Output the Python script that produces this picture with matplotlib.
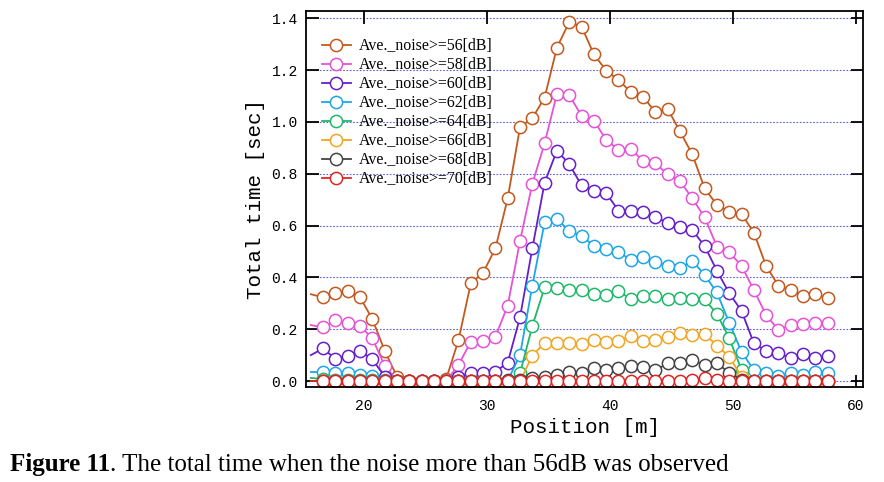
import matplotlib
matplotlib.use("Agg")
import matplotlib.pyplot as plt

# position [m] (first point sits just inside the left edge, its marker is not drawn)
position = [15.7] + [16.7 + i for i in range(42)]

noise_labels = ["Ave._noise>=56[dB]", "Ave._noise>=58[dB]", "Ave._noise>=60[dB]",
                "Ave._noise>=62[dB]", "Ave._noise>=64[dB]", "Ave._noise>=66[dB]",
                "Ave._noise>=68[dB]", "Ave._noise>=70[dB]"]

t56 = [0.335, 0.323, 0.341, 0.347, 0.323, 0.239, 0.117, 0.017, 0.0, 0.0, 0.0, 0.008,
       0.158, 0.377, 0.418, 0.512, 0.705, 0.980, 1.014, 1.094, 1.287, 1.385, 1.368,
       1.261, 1.198, 1.162, 1.115, 1.098, 1.037, 1.050, 0.963, 0.875, 0.744, 0.680,
       0.654, 0.645, 0.573, 0.444, 0.368, 0.351, 0.329, 0.335, 0.319]
t58 = [0.216, 0.207, 0.236, 0.223, 0.212, 0.165, 0.059, 0.002, 0.0, 0.0, 0.0, 0.0,
       0.062, 0.152, 0.156, 0.171, 0.291, 0.541, 0.761, 0.918, 1.108, 1.104, 1.023,
       1.005, 0.931, 0.892, 0.896, 0.849, 0.840, 0.798, 0.772, 0.705, 0.632, 0.519,
       0.497, 0.445, 0.351, 0.255, 0.197, 0.216, 0.220, 0.223, 0.223]
t60 = [0.100, 0.126, 0.085, 0.098, 0.116, 0.084, 0.017, 0.0, 0.0, 0.0, 0.0, 0.0,
       0.017, 0.032, 0.030, 0.036, 0.071, 0.246, 0.512, 0.766, 0.889, 0.837, 0.755,
       0.733, 0.725, 0.658, 0.658, 0.654, 0.632, 0.611, 0.596, 0.583, 0.521, 0.426,
       0.339, 0.271, 0.146, 0.116, 0.107, 0.088, 0.104, 0.088, 0.097]
t62 = [0.035, 0.034, 0.030, 0.030, 0.023, 0.019, 0.004, 0.0, 0.0, 0.0, 0.0, 0.0,
       0.0, 0.0, 0.0, 0.0, 0.002, 0.100, 0.368, 0.613, 0.624, 0.580, 0.560,
       0.522, 0.508, 0.499, 0.467, 0.478, 0.461, 0.444, 0.435, 0.465, 0.409, 0.342,
       0.225, 0.113, 0.042, 0.030, 0.019, 0.032, 0.023, 0.036, 0.030]
t64 = [0.012, 0.008, 0.005, 0.005, 0.004, 0.003, 0.0, 0.0, 0.0, 0.0, 0.0, 0.0,
       0.0, 0.0, 0.0, 0.0, 0.0, 0.030, 0.212, 0.362, 0.360, 0.351, 0.351,
       0.335, 0.332, 0.349, 0.315, 0.328, 0.328, 0.315, 0.319, 0.315, 0.315, 0.259,
       0.166, 0.043, 0.0, 0.0, 0.0, 0.0, 0.0, 0.0, 0.0]
t66 = [0.0, 0.0, 0.0, 0.0, 0.0, 0.0, 0.0, 0.0, 0.0, 0.0, 0.0, 0.0,
       0.0, 0.0, 0.0, 0.0, 0.0, 0.0, 0.098, 0.148, 0.148, 0.148, 0.142,
       0.158, 0.152, 0.154, 0.174, 0.154, 0.158, 0.171, 0.184, 0.178, 0.181, 0.137,
       0.094, 0.017, 0.0, 0.0, 0.0, 0.0, 0.0, 0.0, 0.0]
t68 = [0.0, 0.0, 0.0, 0.0, 0.0, 0.0, 0.0, 0.0, 0.0, 0.0, 0.0, 0.0,
       0.0, 0.0, 0.0, 0.0, 0.003, 0.003, 0.013, 0.017, 0.023, 0.036, 0.032,
       0.051, 0.042, 0.049, 0.058, 0.055, 0.042, 0.068, 0.071, 0.081, 0.062, 0.071,
       0.030, 0.005, 0.0, 0.0, 0.0, 0.0, 0.0, 0.0, 0.0]
t70 = [0.0, 0.0, 0.0, 0.0, 0.0, 0.0, 0.0, 0.0, 0.0, 0.0, 0.0, 0.0,
       0.0, 0.0, 0.0, 0.0, 0.0, 0.0, 0.0, 0.0, 0.0, 0.0, 0.0,
       0.0, 0.0, 0.0, 0.0, 0.0, 0.0, 0.0, 0.0, 0.005, 0.013, 0.004,
       0.0, 0.0, 0.0, 0.0, 0.0, 0.0, 0.0, 0.0, 0.0]

series = [t56, t58, t60, t62, t64, t66, t68, t70]
colors = ["#c25a1f", "#e653d6", "#6520c9", "#1ea6e6", "#1fb86a", "#f0a622", "#444444", "#e02424"]

x_ticks = [20, 30, 40, 50, 60]
y_ticks = [0.0, 0.2, 0.4, 0.6, 0.8, 1.0, 1.2, 1.4]

mono = ["Liberation Mono", "DejaVu Sans Mono"]

fig = plt.figure(figsize=(8.84, 4.82), dpi=100)
ax = fig.add_axes([0.3462, 0.1971, 0.6300, 0.7801])

for y in y_ticks:
    ax.axhline(y, color="#6060d0", lw=0.8, ls=(0, (1.5, 1.5)), zorder=0)

for vals, col, lab in zip(series, colors, noise_labels):
    ax.plot(position, vals, color=col, lw=1.3, marker="o", ms=8.8,
            mfc="white", mec=col, mew=1.1, markevery=slice(1, None), label=lab)

ax.set_xlim(15.31, 60.57)
ax.set_ylim(-0.023, 1.428)
ax.set_xticks(x_ticks)
ax.set_yticks(y_ticks)
ax.set_xticklabels([str(v) for v in x_ticks], family=mono, fontsize=10.5)
ax.set_yticklabels(["%.1f" % v for v in y_ticks], family=mono, fontsize=10.5)
ax.tick_params(axis="x", pad=9)
ax.tick_params(direction="in", length=9, width=1.3, top=True, right=True)
ax.tick_params(axis="y", pad=6)
for s in ax.spines.values():
    s.set_linewidth(1.3)

ax.set_xlabel("Position [m]", family=mono, fontsize=15, labelpad=3)
ax.set_ylabel("Total time [sec]", family=mono, fontsize=15, labelpad=5)

ax.legend(loc="upper left", bbox_to_anchor=(0.0287, 0.927), frameon=False,
          prop={"family": "Liberation Serif", "size": 11.4},
          handlelength=1.8, handletextpad=0.5, labelspacing=0.19,
          borderpad=0, borderaxespad=0)

# caption: bold "Figure 11" followed by regular text
fig.canvas.draw()
r = fig.canvas.get_renderer()
t1 = fig.text(10 / 884, 1 - 471 / 482, "Figure 11", family="Liberation Serif",
              fontweight="bold", fontsize=18, va="baseline")
bb = t1.get_window_extent(r)
fig.text(bb.x1 / 884, 1 - 471 / 482, ". The total time when the noise more than 56dB was observed",
         family="Liberation Serif", fontsize=18, va="baseline")

fig.savefig("out.png", dpi=100)
